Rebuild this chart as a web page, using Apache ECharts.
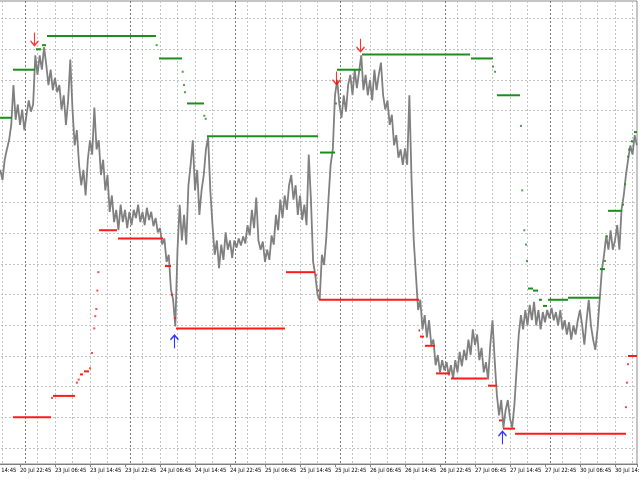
<!DOCTYPE html>
<html><head><meta charset="utf-8">
<script src="https://cdn.jsdelivr.net/npm/echarts@6/dist/echarts.min.js"></script>
<style>html,body{margin:0;padding:0;background:#fff}#c{width:640px;height:480px}</style>
</head><body><div id="c"></div>
<script>
// x unit: trading hours since 20 Jul 14:45; price sampled every half hour
const barStep = 0.5;
const xMax = 149.03;
const tickLabels = ['20 Jul 14:45','20 Jul 22:45','23 Jul 06:45','23 Jul 14:45','23 Jul 22:45','24 Jul 06:45','24 Jul 14:45','24 Jul 22:45','25 Jul 06:45','25 Jul 14:45','25 Jul 22:45','26 Jul 06:45','26 Jul 14:45','26 Jul 22:45','27 Jul 06:45','27 Jul 14:45','27 Jul 22:45','30 Jul 06:45','30 Jul 14:45'];
const separators = [9.25, 33.25, 57.25, 81.25, 105.25, 129.25];

const close = [
307,312,302,310,297,304,294,302,292,312,
322,331,346,385,351,366,346,361,341,356,
370,359,366,414,395,414,400,422,405,385,
400,380,392,378,385,361,375,346,370,410,
361,326,341,307,287,302,277,312,331,317,
363,322,331,297,312,282,297,261,277,251,
263,243,268,251,263,245,261,248,263,255,
268,251,261,248,265,253,261,247,255,241,
245,229,235,212,219,185,175,149,224,268,
233,258,229,287,307,331,282,302,258,282,
297,322,334,282,248,219,233,206,229,214,
241,224,233,216,233,226,235,228,237,230,
248,238,263,245,275,233,224,232,212,224,
214,238,229,258,243,273,255,277,263,287,
297,273,287,258,277,253,268,248,317,273,
212,199,180,175,219,209,235,273,307,322,
375,390,366,353,375,359,385,395,375,400,
382,398,414,380,395,375,390,370,400,380,
395,407,375,361,370,346,356,326,336,314,
322,307,323,307,375,292,233,199,165,175,
146,160,138,155,131,136,111,121,104,116,
106,114,101,111,98,116,104,124,110,126,
116,136,121,146,131,141,116,128,104,114,
97,131,155,116,82,62,77,50,67,77,
59,50,72,106,141,160,146,165,150,170,
155,173,150,165,146,163,153,165,157,167,
155,163,150,165,146,155,141,153,136,150,
141,155,165,150,131,155,175,150,136,126,
146,175,204,219,238,224,243,224,233,248,
224,263,277,297,312,326,317,336,326
];

// [start, end, level]
const greenSegs = [
[0,6.17,353],[6.4,11.43,400],[11.66,12.8,420],[13.03,13.94,424],[14.17,39.09,433],
[39.77,45.03,411],[46.17,50.06,367],[50.74,76.11,335],[76.57,80.0,319],[80.46,85.94,400],
[86.17,110.86,415],[111.09,116.11,411],[117.03,122.29,375],[124.11,125.26,186],[125.26,126.4,184],
[126.63,127.31,175],[127.54,128.46,169],[128.69,133.26,175],[133.26,140.57,177],[140.57,141.71,205],
[142.4,145.6,262],[147.66,148.11,330],[148.34,149.03,339]
];
const greenDots = [
[39.24,424],[45.19,398],[45.49,385],[45.71,378],[50.13,355],[50.44,352],[80.23,367],
[116.11,403],[116.57,398],[122.51,345],[122.8,282],[123.27,243],[123.66,229],[123.89,213],
[141.71,213],[142.17,237],[145.83,268],[146.29,288],[146.97,315],[147.2,322]
];
const redSegs = [
[6.4,15.09,60],[15.54,20.57,81],[21.71,22.4,102],[22.63,23.77,105],[26.06,30.17,243],
[30.4,40.69,235],[41.14,42.51,208],[42.51,42.97,180],[43.66,68.57,147],[68.8,75.43,202],
[76.11,76.34,184],[76.34,99.2,175],[99.09,99.43,145],[99.43,100.34,139],[100.57,102.86,130],
[103.09,106.29,103],[106.51,114.74,98],[114.97,117.03,91],[117.49,118.17,57],[118.4,121.14,49],
[121.14,146.51,44],[146.97,149.03,120]
];
const redDots = [
[15.31,79],[21.03,94],[21.41,97],[24.0,108],[24.46,123],[24.98,147],[25.21,159],[25.44,166],
[25.67,184],[25.9,202],[43.43,157],[75.66,199],[146.51,70],[146.74,94],[146.97,112]
];
const downArrows = [[11.31,430],[80.34,392],[85.83,424]];
const upArrows = [[43.31,134],[118.28,40]];

const priceData = close.map((v, i) => [i * barStep, v]);

function segSeries(segs, color) {
  return {
    type: 'custom', data: segs, encode: {x: [0, 1], y: 2}, clip: true, z: 4, silent: true,
    renderItem: function (params, api) {
      const p0 = api.coord([api.value(0), api.value(2)]);
      const p1 = api.coord([api.value(1), api.value(2)]);
      return {type: 'line', shape: {x1: p0[0], y1: p0[1], x2: p1[0], y2: p1[1]},
              style: {stroke: color, lineWidth: 2}};
    }
  };
}
function dotSeries(dots, color) {
  return {type: 'scatter', data: dots, symbol: 'rect', symbolSize: [2, 2], z: 4, silent: true,
          itemStyle: {color: color}};
}
const gridColor = '#c4c4c4';
const hide = 'rgba(0,0,0,0)';

const chart = echarts.init(document.getElementById('c'), null, {renderer: 'canvas'});
chart.setOption({
  animation: false,
  backgroundColor: '#ffffff',
  grid: {left: -15, right: 3, top: 1, bottom: 16, show: true, borderColor: '#8c8c8c', borderWidth: 1,
         containLabel: false, outerBoundsMode: 'none'},
  xAxis: [
    {type: 'value', min: 0, max: xMax, interval: 8, position: 'bottom',
     axisLine: {show: true, onZero: false, lineStyle: {color: '#808080', width: 1}},
     axisTick: {show: true, length: 3, lineStyle: {color: '#808080'}},
     axisLabel: {show: true, align: 'left', margin: 3, color: '#000', fontSize: 5.8,
       fontFamily: "'DejaVu Sans Condensed','Liberation Sans',sans-serif",
       formatter: function (v) { const k = Math.round(v / 8); return Math.abs(v - k * 8) < 1e-6 ? (tickLabels[k] || '') : ''; }},
     splitLine: {show: false}},
    {type: 'value', min: 0, max: xMax, interval: 4, position: 'top',
     axisLine: {show: false}, axisTick: {show: false}, axisLabel: {show: false},
     splitLine: {show: true, lineStyle: {color: [gridColor, gridColor, hide, gridColor, gridColor, gridColor], type: [2, 2], width: 1}}}
  ],
  yAxis: {type: 'value', position: 'right', min: 14.4, max: 467.2, splitNumber: 15,
    axisLine: {show: true, lineStyle: {color: '#808080'}},
    axisTick: {show: true, length: 3, lineStyle: {color: '#808080'}},
    axisLabel: {show: false},
    splitLine: {show: true, lineStyle: {color: gridColor, type: [2, 2], width: 1}}},
  series: [
    {type: 'custom', data: separators.map(t => [t]), encode: {x: 0}, z: 1, silent: true, clip: true,
     renderItem: function (params, api) {
       const cs = params.coordSys;
       const x = Math.round(api.coord([api.value(0), 0])[0]) + 0.5;
       return {type: 'line', shape: {x1: x, y1: cs.y, x2: x, y2: cs.y + cs.height},
               style: {stroke: '#7a7a7a', lineWidth: 1, lineDash: [2, 2]}};
     }},
    {type: 'line', data: priceData, showSymbol: false, symbol: 'none', z: 2, silent: true,
     lineStyle: {color: '#808080', width: 1.8}},
    segSeries(greenSegs, '#1a8f1a'),
    segSeries(redSegs, '#ff1a1a'),
    dotSeries(greenDots, '#1a8f1a'),
    dotSeries(redDots, '#ff1a1a'),
    {type: 'scatter', data: downArrows, z: 5, silent: true,
     symbol: 'path://M5 0 L5 14 M1 9 L5 14 L9 9', symbolSize: [8, 13],
     itemStyle: {color: 'rgba(0,0,0,0)', borderColor: '#ff0000', borderWidth: 1.4}},
    {type: 'scatter', data: upArrows, z: 5, silent: true,
     symbol: 'path://M5 14 L5 0 M1 5 L5 0 L9 5', symbolSize: [8, 13],
     itemStyle: {color: 'rgba(0,0,0,0)', borderColor: '#0000ff', borderWidth: 1.4}}
  ]
});
</script></body></html>
